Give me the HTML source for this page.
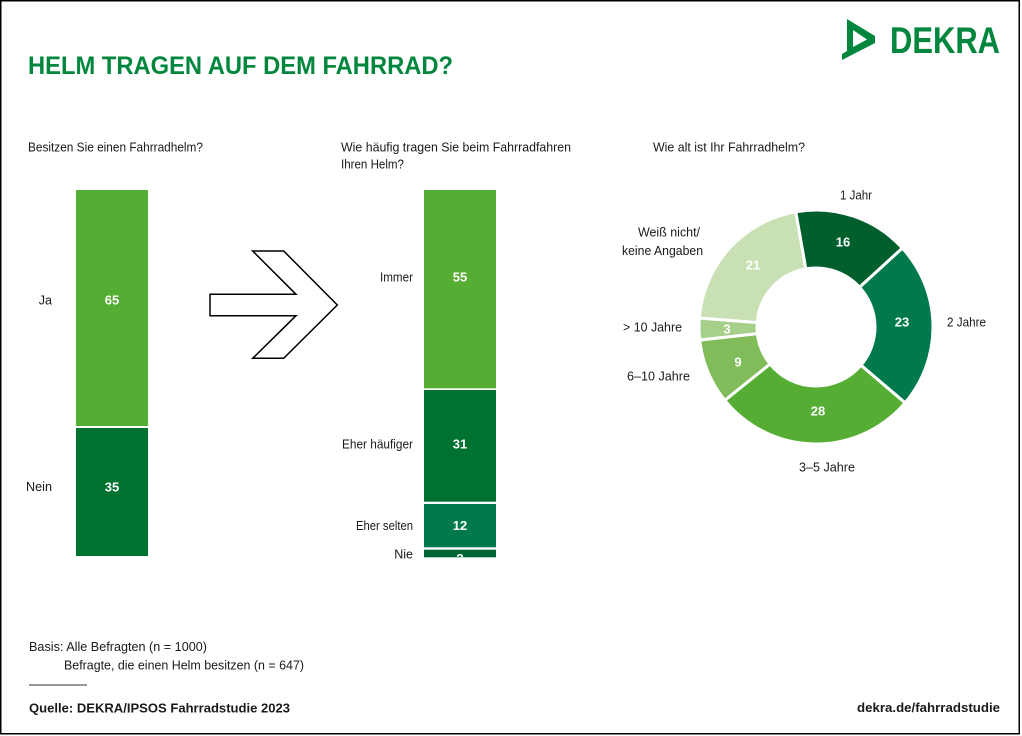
<!DOCTYPE html>
<html>
<head>
<meta charset="utf-8">
<style>
  html,body{margin:0;padding:0;background:#fff;}
  svg{display:block;}
  text{font-family:"Liberation Sans", Arial, sans-serif;}
</style>
</head>
<body>
<svg width="1022" height="736" viewBox="0 0 1022 736" xmlns="http://www.w3.org/2000/svg">
  <rect x="0" y="0" width="1022" height="736" fill="#fff"/>
  <rect x="0.75" y="0.75" width="1018.5" height="733" fill="none" stroke="#000" stroke-width="1.5"/>

  <!-- Title -->
  <text x="28" y="74" font-size="25" font-weight="bold" fill="#00873d" textLength="425" lengthAdjust="spacingAndGlyphs">HELM TRAGEN AUF DEM FAHRRAD?</text>

  <!-- Logo -->
  <path fill-rule="evenodd" fill="#00873d" d="M847,19 L875,36 L875,43 L842,60 L842,54 L847,51 Z M853,30 L867,39.5 L853,47 Z"/>
  <text x="890" y="53" font-size="37" font-weight="bold" fill="#00873d" textLength="110" lengthAdjust="spacingAndGlyphs">DEKRA</text>

  <!-- Subtitles -->
  <g font-size="12.5" fill="#1a1a1a">
    <text x="28" y="151.5" textLength="175" lengthAdjust="spacingAndGlyphs">Besitzen Sie einen Fahrradhelm?</text>
    <text x="341" y="151.5" textLength="230" lengthAdjust="spacingAndGlyphs">Wie häufig tragen Sie beim Fahrradfahren</text>
    <text x="341" y="168.5" textLength="63" lengthAdjust="spacingAndGlyphs">Ihren Helm?</text>
    <text x="653" y="151.5" textLength="152" lengthAdjust="spacingAndGlyphs">Wie alt ist Ihr Fahrradhelm?</text>
  </g>

  <!-- Bar 1 -->
  <rect x="76" y="190" width="72" height="236" fill="#55ae33"/>
  <rect x="76" y="428" width="72" height="128" fill="#00722f"/>
  <g font-size="12.5" fill="#1a1a1a" text-anchor="end">
    <text x="52" y="304.5">Ja</text>
    <text x="52" y="491" textLength="26" lengthAdjust="spacingAndGlyphs">Nein</text>
  </g>
  <g font-size="13" font-weight="bold" fill="#fff" text-anchor="middle">
    <text x="112" y="304.5">65</text>
    <text x="112" y="491.5">35</text>
  </g>

  <!-- Arrow -->
  <polygon points="210,294.3 296,294.3 252.7,251 283.7,251 337.3,305 283.7,358.3 252.7,358.3 296,315.7 210,315.7" fill="#fff" stroke="#000" stroke-width="1.5" stroke-linejoin="miter"/>

  <!-- Bar 2 -->
  <defs>
    <clipPath id="nieclip"><rect x="424" y="549.7" width="72" height="7.6"/></clipPath>
  </defs>
  <rect x="424" y="190" width="72" height="198.3" fill="#55ae33"/>
  <rect x="424" y="390" width="72" height="111.7" fill="#00722f"/>
  <rect x="424" y="504" width="72" height="43.3" fill="#007a4c"/>
  <rect x="424" y="549.7" width="72" height="7.6" fill="#006532"/>
  <g font-size="12.5" fill="#1a1a1a" text-anchor="end">
    <text x="413" y="281.5" textLength="33" lengthAdjust="spacingAndGlyphs">Immer</text>
    <text x="413" y="448.5" textLength="71" lengthAdjust="spacingAndGlyphs">Eher häufiger</text>
    <text x="413" y="530" textLength="57" lengthAdjust="spacingAndGlyphs">Eher selten</text>
    <text x="413" y="558.5">Nie</text>
  </g>
  <g font-size="13" font-weight="bold" fill="#fff" text-anchor="middle">
    <text x="460" y="281.5">55</text>
    <text x="460" y="448.5">31</text>
    <text x="460" y="530">12</text>
    <text x="460" y="563" clip-path="url(#nieclip)">2</text>
  </g>

  <!-- Donut -->
  <g stroke="#fff" stroke-width="3" stroke-linejoin="miter">
    <path fill="#005f2d" d="M795.68,211.78 A117,117 0 0 1 902.39,248.11 L859.57,287.22 A59,59 0 0 0 805.75,268.90 Z"/>
    <path fill="#007a4c" d="M902.39,248.11 A117,117 0 0 1 905.10,402.83 L860.93,365.24 A59,59 0 0 0 859.57,287.22 Z"/>
    <path fill="#55ae33" d="M905.10,402.83 A117,117 0 0 1 724.82,400.31 L770.02,363.97 A59,59 0 0 0 860.93,365.24 Z"/>
    <path fill="#80bc59" d="M724.82,400.31 A117,117 0 0 1 699.73,340.04 L757.37,333.58 A59,59 0 0 0 770.02,363.97 Z"/>
    <path fill="#a6d08a" d="M699.73,340.04 A117,117 0 0 1 699.35,318.02 L757.17,322.47 A59,59 0 0 0 757.37,333.58 Z"/>
    <path fill="#c8e0b3" d="M699.35,318.02 A117,117 0 0 1 795.68,211.78 L805.75,268.90 A59,59 0 0 0 757.17,322.47 Z"/>
  </g>
  <g font-size="13" font-weight="bold" fill="#fff" text-anchor="middle">
    <text x="843" y="246.5">16</text>
    <text x="902" y="326.5">23</text>
    <text x="818" y="415.5">28</text>
    <text x="738" y="366.5">9</text>
    <text x="727" y="333.5">3</text>
    <text x="753" y="269.5">21</text>
  </g>
  <g font-size="12.5" fill="#1a1a1a">
    <text x="840" y="199.5" textLength="32" lengthAdjust="spacingAndGlyphs">1 Jahr</text>
    <text x="638" y="236.5" textLength="62" lengthAdjust="spacingAndGlyphs">Weiß nicht/</text>
    <text x="622" y="255" textLength="81" lengthAdjust="spacingAndGlyphs">keine Angaben</text>
    <text x="947" y="326.5" textLength="39" lengthAdjust="spacingAndGlyphs">2 Jahre</text>
    <text x="623" y="331.5" textLength="59" lengthAdjust="spacingAndGlyphs">&gt; 10 Jahre</text>
    <text x="627" y="380.5" textLength="63" lengthAdjust="spacingAndGlyphs">6–10 Jahre</text>
    <text x="799" y="471.5" textLength="56" lengthAdjust="spacingAndGlyphs">3–5 Jahre</text>
  </g>

  <!-- Footer -->
  <g font-size="12.5" fill="#1a1a1a">
    <text x="29" y="651" textLength="178" lengthAdjust="spacingAndGlyphs">Basis: Alle Befragten (n = 1000)</text>
    <text x="64" y="669.5" textLength="240" lengthAdjust="spacingAndGlyphs">Befragte, die einen Helm besitzen (n = 647)</text>
  </g>
  <line x1="29" y1="685" x2="87" y2="685" stroke="#333" stroke-width="1"/>
  <g font-size="13" font-weight="bold" fill="#1a1a1a">
    <text x="29" y="712.5" textLength="261" lengthAdjust="spacingAndGlyphs">Quelle: DEKRA/IPSOS Fahrradstudie 2023</text>
    <text x="857" y="712" textLength="143" lengthAdjust="spacingAndGlyphs">dekra.de/fahrradstudie</text>
  </g>
</svg>
</body>
</html>
